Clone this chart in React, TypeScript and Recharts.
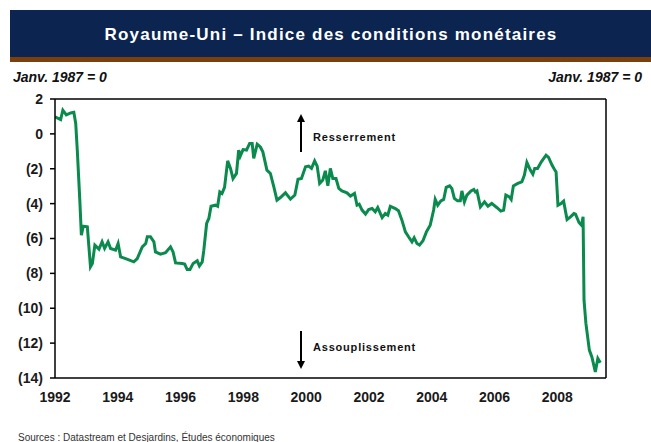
import { LineChart, Line, XAxis, YAxis, ReferenceLine } from 'recharts'

// Années décimales (lecture du graphique)
const dates = [
  1992.0, 1992.18, 1992.25, 1992.36, 1992.5, 1992.6, 1992.66, 1992.71, 1992.79, 1992.84,
  1992.9, 1993.03, 1993.08, 1993.13, 1993.19, 1993.27, 1993.4, 1993.5, 1993.58, 1993.69,
  1993.77, 1993.93, 1994.01, 1994.09, 1994.25, 1994.51, 1994.62, 1994.78, 1994.89, 1994.94,
  1995.04, 1995.15, 1995.2, 1995.36, 1995.52, 1995.68, 1995.76, 1995.84, 1996.05, 1996.13,
  1996.21, 1996.3, 1996.4, 1996.53, 1996.6, 1996.69, 1996.74, 1996.83, 1996.9, 1996.97,
  1997.11, 1997.18, 1997.25, 1997.32, 1997.4, 1997.5, 1997.59, 1997.67, 1997.78, 1997.85,
  1997.9, 1997.99, 1998.1, 1998.2, 1998.28, 1998.33, 1998.44, 1998.54, 1998.62, 1998.75,
  1998.86, 1998.97, 1999.07, 1999.18, 1999.34, 1999.5, 1999.64, 1999.74, 1999.85, 1999.98,
  2000.08, 2000.17, 2000.27, 2000.35, 2000.43, 2000.53, 2000.61, 2000.69, 2000.77, 2000.85,
  2000.95, 2001.04, 2001.14, 2001.3, 2001.41, 2001.54, 2001.62, 2001.69, 2001.78, 2001.89,
  2001.99, 2002.1, 2002.2, 2002.28, 2002.42, 2002.52, 2002.6, 2002.68, 2002.84, 2002.94,
  2003.05, 2003.16, 2003.26, 2003.37, 2003.44, 2003.53, 2003.61, 2003.72, 2003.83, 2003.95,
  2004.06, 2004.11, 2004.19, 2004.29, 2004.38, 2004.46, 2004.57, 2004.64, 2004.72, 2004.82,
  2004.91, 2004.96, 2005.04, 2005.12, 2005.25, 2005.34, 2005.39, 2005.44, 2005.55, 2005.68,
  2005.79, 2005.91, 2006.07, 2006.2, 2006.29, 2006.36, 2006.47, 2006.53, 2006.6, 2006.74,
  2006.87, 2006.95, 2007.03, 2007.14, 2007.22, 2007.28, 2007.37, 2007.49, 2007.64, 2007.72,
  2007.83, 2007.91, 2007.96, 2008.02, 2008.12, 2008.2, 2008.31, 2008.42, 2008.53, 2008.58,
  2008.69, 2008.77, 2008.82, 2008.85, 2008.91, 2009.02, 2009.1, 2009.21, 2009.29, 2009.37,
]

// Indice des conditions monétaires (janv. 1987 = 0)
const mci = [
  0.97, 0.82, 1.36, 1.09, 1.2, 1.24, 0.6, -0.93, -3.8, -5.81,
  -5.29, -5.33, -6.48, -7.62, -7.43, -6.38, -6.61, -6.19, -6.57, -6.19,
  -6.57, -6.67, -6.29, -7.05, -7.15, -7.34, -7.15, -6.48, -6.29, -5.9,
  -5.9, -6.19, -6.77, -6.9, -6.82, -6.48, -6.77, -7.4, -7.43, -7.47,
  -7.78, -7.78, -7.43, -7.28, -7.57, -7.34, -6.67, -5.14, -4.85, -4.15,
  -4.09, -4.15, -3.33, -3.42, -3.07, -1.55, -1.98, -2.56, -2.27, -0.93,
  -1.28, -0.9, -0.93, -0.55, -0.55, -1.41, -0.59, -0.75, -1.03, -2.08,
  -2.27, -3.04, -3.8, -3.65, -3.38, -3.74, -3.51, -2.6, -2.56, -1.89,
  -1.85, -1.98, -1.55, -1.85, -2.84, -2.65, -2.12, -2.98, -1.98, -2.56,
  -2.56, -3.13, -3.27, -3.38, -3.57, -3.42, -4.09, -4.03, -4.37, -4.6,
  -4.34, -4.28, -4.47, -4.22, -4.8, -4.57, -4.66, -4.15, -4.28, -4.41,
  -4.95, -5.62, -5.9, -6.19, -5.96, -6.29, -6.38, -6.13, -5.62, -5.24,
  -4.37, -3.76, -4.09, -3.84, -3.76, -3.07, -2.98, -3.13, -3.7, -3.84,
  -3.84, -3.27, -3.9, -3.51, -3.27, -3.19, -3.33, -3.27, -4.19, -3.9,
  -4.15, -3.99, -4.22, -4.43, -4.37, -3.51, -3.61, -3.76, -2.98, -2.84,
  -2.75, -2.37, -1.64, -2.08, -2.31, -1.98, -1.98, -1.6, -1.22, -1.35,
  -1.79, -2.04, -2.18, -4.09, -3.99, -3.86, -4.91, -4.76, -4.57, -4.6,
  -5.08, -5.24, -4.76, -9.54, -10.87, -12.4, -12.79, -13.65, -12.88, -13.13,
]

const yearTicks = [1992, 1994, 1996, 1998, 2000, 2002, 2004, 2006, 2008]
const valueTicks = [-14, -12, -10, -8, -6, -4, -2, 0, 2]

const data = dates.map((d, i) => ({ year: d, mci: mci[i] }))

const fmt = (v: number) => (v < 0 ? `(${Math.abs(v)})` : `${v}`)

const tickStyle = { fontSize: 14, fontWeight: 700, fill: '#1a1a1a', fontFamily: '"Liberation Sans", Arial, sans-serif' }

export default function App() {
  return (
    <div
      style={{
        position: 'absolute',
        left: 0,
        top: 0,
        width: 651,
        height: 442,
        overflow: 'hidden',
        background: '#fff',
        fontFamily: '"Liberation Sans", Arial, sans-serif',
      }}
    >
      {/* Bandeau titre */}
      <div style={{ position: 'absolute', left: 10, top: 10, width: 641, height: 47, background: '#0b2450' }} />
      <div style={{ position: 'absolute', left: 10, top: 57, width: 641, height: 5, background: '#7b3f0c' }} />
      <div
        style={{
          position: 'absolute',
          left: 0,
          width: 662,
          top: 25,
          textAlign: 'center',
          color: '#fff',
          fontSize: 17,
          fontWeight: 700,
          letterSpacing: 1.2,
          lineHeight: '20px',
        }}
      >
        Royaume-Uni – Indice des conditions monétaires
      </div>

      <div style={{ position: 'absolute', left: 13, top: 69, fontSize: 14, fontWeight: 700, fontStyle: 'italic', color: '#111', lineHeight: '16px' }}>
        Janv. 1987 = 0
      </div>
      <div style={{ position: 'absolute', right: 9, top: 69, fontSize: 14, fontWeight: 700, fontStyle: 'italic', color: '#111', lineHeight: '16px' }}>
        Janv. 1987 = 0
      </div>

      <div style={{ position: 'absolute', left: 0, top: 0 }}>
        <LineChart width={651} height={442} data={data} margin={{ top: 99, right: 0, bottom: 34, left: 5 }}>
          <XAxis
            dataKey="year"
            type="number"
            domain={[1992, 2009.55]}
            ticks={yearTicks}
            allowDataOverflow
            tickLine={false}
            tickSize={10}
            tickMargin={4}
            axisLine={{ stroke: '#000', strokeWidth: 1.5 }}
            tick={tickStyle}
            height={30}
          />
          <YAxis
            yAxisId="left"
            domain={[-14, 2]}
            ticks={valueTicks}
            tickFormatter={fmt}
            width={50}
            tickSize={5}
            tickMargin={7}
            axisLine={{ stroke: '#000', strokeWidth: 1.5 }}
            tickLine={{ stroke: '#000', strokeWidth: 1.5 }}
            tick={tickStyle}
          />
          <YAxis
            yAxisId="right"
            orientation="right"
            domain={[-14, 2]}
            ticks={valueTicks}
            tickFormatter={fmt}
            width={45}
            tickSize={5}
            tickMargin={5}
            axisLine={{ stroke: '#000', strokeWidth: 1.5 }}
            tickLine={{ stroke: '#000', strokeWidth: 1.5 }}
            tick={tickStyle}
          />
          <ReferenceLine yAxisId="left" y={2} stroke="#000" strokeWidth={1.5} />
          <Line
            yAxisId="left"
            type="linear"
            dataKey="mci"
            stroke="#0a8a4c"
            strokeWidth={3}
            dot={false}
            isAnimationActive={false}
          />
        </LineChart>
      </div>

      {/* Flèches et annotations */}
      <svg style={{ position: 'absolute', left: 0, top: 0 }} width={651} height={442}>
        <line x1={301} y1={152} x2={301} y2={121} stroke="#000" strokeWidth={2} />
        <polygon points="297,122 305,122 301,114" fill="#000" />
        <line x1={301} y1={331} x2={301} y2={362} stroke="#000" strokeWidth={2} />
        <polygon points="297,361 305,361 301,369" fill="#000" />
      </svg>
      <div style={{ position: 'absolute', left: 313, top: 130, fontSize: 11, fontWeight: 700, letterSpacing: 0.8, color: '#111', lineHeight: '14px' }}>
        Resserrement
      </div>
      <div style={{ position: 'absolute', left: 313, top: 340, fontSize: 11, fontWeight: 700, letterSpacing: 0.8, color: '#111', lineHeight: '14px' }}>
        Assouplissement
      </div>

      <div style={{ position: 'absolute', left: 18, top: 432, fontSize: 10, color: '#333', lineHeight: '12px', whiteSpace: 'nowrap' }}>
        Sources : Datastream et Desjardins, Études économiques
      </div>
    </div>
  )
}
